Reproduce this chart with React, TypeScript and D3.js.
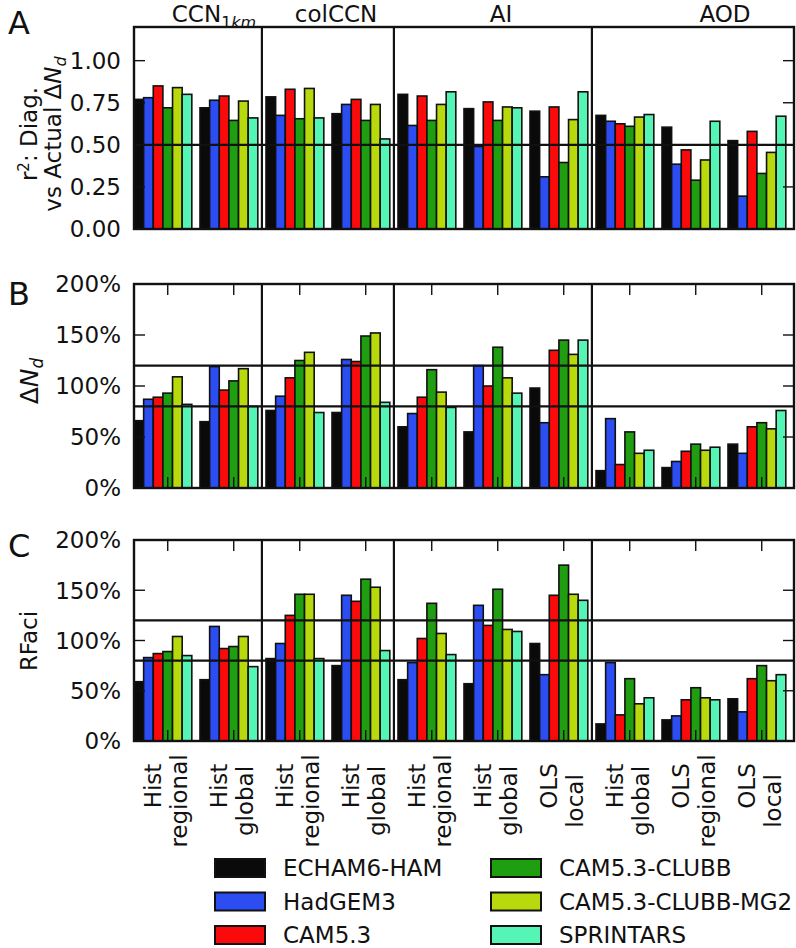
import React from "react";
import * as d3 from "d3";

const models = ["ECHAM6-HAM", "HadGEM3", "CAM5.3", "CAM5.3-CLUBB", "CAM5.3-CLUBB-MG2", "SPRINTARS"];
const modelColors = ["#0a0a0a", "#2b4df2", "#fa0a0a", "#1f9e12", "#b8da0c", "#55f5b5"];

const labelLine1 = ["Hist", "Hist", "Hist", "Hist", "Hist", "Hist", "OLS", "Hist", "OLS", "OLS"];
const labelLine2 = ["regional", "global", "regional", "global", "regional", "global", "local", "global", "regional", "local"];

const columnNames = ["CCN", "colCCN", "AI", "AOD"];
const columnSubs = ["1km", "", "", ""];
const columnStartGroup = [0, 2, 4, 7];

// Panel A: r^2 diagnosed vs actual ΔNd  (rows = groups, cols = models)
const r2Values = [
  [0.77, 0.78, 0.85, 0.72, 0.84, 0.80],
  [0.72, 0.765, 0.79, 0.645, 0.76, 0.66],
  [0.785, 0.675, 0.83, 0.655, 0.835, 0.66],
  [0.685, 0.74, 0.77, 0.645, 0.74, 0.535],
  [0.80, 0.615, 0.79, 0.645, 0.74, 0.815],
  [0.715, 0.49, 0.755, 0.645, 0.725, 0.72],
  [0.70, 0.31, 0.725, 0.395, 0.65, 0.815],
  [0.675, 0.64, 0.625, 0.61, 0.665, 0.68],
  [0.605, 0.385, 0.47, 0.29, 0.41, 0.64],
  [0.525, 0.195, 0.58, 0.33, 0.455, 0.67],
];

// Panel B: ΔNd (%)
const dNdValues = [
  [66, 87, 89, 93, 109, 82],
  [65, 119, 96, 105, 117, 80],
  [76, 90, 108, 125, 133, 74],
  [74, 126, 124, 149, 152, 84],
  [60, 73, 89, 116, 94, 79],
  [55, 120, 100, 138, 108, 93],
  [98, 64, 135, 145, 131, 145],
  [17, 68, 23, 55, 34, 37],
  [20, 26, 36, 43, 37, 40],
  [43, 34, 60, 64, 58, 76],
];

// Panel C: RFaci (%)
const rfaciValues = [
  [59, 83, 87, 89, 104, 85],
  [61, 114, 92, 94, 104, 74],
  [82, 97, 125, 146, 146, 82],
  [75, 145, 139, 161, 153, 90],
  [61, 78, 102, 137, 107, 86],
  [57, 135, 115, 151, 111, 109],
  [97, 66, 145, 175, 146, 140],
  [17, 78, 26, 62, 37, 43],
  [21, 25, 41, 53, 43, 41],
  [42, 29, 62, 75, 60, 66],
];

const r2Ticks = [0, 0.25, 0.5, 0.75, 1.0];
const pctTicks = [0, 50, 100, 150, 200];
const r2Refs = [0.5];
const pctRefs = [80, 120];

const FONT = "DejaVu Sans, Bitstream Vera Sans, sans-serif";
const BW = 0.146;
const FS = 23;

export default function App() {
  const x = d3.scaleLinear().domain([0, 10]).range([134, 794]);
  const groups = d3.range(10);
  const tickX = (i: number) => x(i + 3.5 * BW);

  const panels = [
    { letter: "A", letterY: 34, data: r2Values, domain: [0, 1.2], top: 27, bottom: 229, ticks: r2Ticks, fmt: d3.format(".2f"), refs: r2Refs, xTicks: false },
    { letter: "B", letterY: 305, data: dNdValues, domain: [0, 200], top: 284, bottom: 488, ticks: pctTicks, fmt: (d: number) => `${d}%`, refs: pctRefs, xTicks: true },
    { letter: "C", letterY: 557, data: rfaciValues, domain: [0, 200], top: 540, bottom: 741, ticks: pctTicks, fmt: (d: number) => `${d}%`, refs: pctRefs, xTicks: true },
  ];

  const titleX = [214, 336, 501, 725];

  return (
    <svg width={796} height={948} style={{ position: "absolute", left: 0, top: 0, background: "#fff" }} fontFamily={FONT}>
      {panels.map((p, pi) => {
        const y = d3.scaleLinear().domain(p.domain).range([p.bottom, p.top]);
        const x0 = x.range()[0], x1 = x.range()[1];
        return (
          <g key={pi}>
            <defs>
              <clipPath id={`clip${pi}`}>
                <rect x={x0} y={p.top} width={x1 - x0} height={p.bottom - p.top} />
              </clipPath>
            </defs>
            <g clipPath={`url(#clip${pi})`}>
              {groups.map((g) =>
                models.map((m, mi) => {
                  const v = p.data[g][mi];
                  const bx = x(g + mi * BW);
                  const bw = x(g + (mi + 1) * BW) - bx;
                  return (
                    <rect key={`${g}-${mi}`} x={bx} y={y(v)} width={bw} height={y(0) - y(v)}
                      fill={modelColors[mi]} stroke="#111" strokeWidth={1.6} />
                  );
                })
              )}
              {p.refs.map((r) => (
                <line key={r} x1={x0} x2={x1} y1={y(r)} y2={y(r)} stroke="#111" strokeWidth={2.2} />
              ))}
              {columnStartGroup.slice(1).map((gs) => (
                <line key={gs} x1={x(gs - 0.062)} x2={x(gs - 0.062)} y1={p.top} y2={p.bottom} stroke="#111" strokeWidth={2.2} />
              ))}
              {p.ticks.map((t) => (
                <g key={t}>
                  <line x1={x0} x2={x0 + 11} y1={y(t)} y2={y(t)} stroke="#111" strokeWidth={1.4} />
                  <line x1={x1 - 11} x2={x1} y1={y(t)} y2={y(t)} stroke="#111" strokeWidth={1.4} />
                </g>
              ))}
              {p.xTicks && groups.map((g) => (
                <g key={g}>
                  <line x1={tickX(g)} x2={tickX(g)} y1={p.top} y2={p.top + 11} stroke="#111" strokeWidth={1.4} />
                  <line x1={tickX(g)} x2={tickX(g)} y1={p.bottom - 11} y2={p.bottom} stroke="#111" strokeWidth={1.4} />
                </g>
              ))}
            </g>
            <rect x={x0} y={p.top} width={x1 - x0} height={p.bottom - p.top} fill="none" stroke="#111" strokeWidth={2.4} />
            {p.ticks.map((t) => (
              <text key={t} x={121} y={y(t)} dy="0.36em" textAnchor="end" fontSize={FS} fill="#111">{p.fmt(t)}</text>
            ))}
            <text x={8} y={p.letterY} fontSize={32} fill="#111">{p.letter}</text>
          </g>
        );
      })}

      {/* column titles */}
      {columnNames.map((c, ci) => (
        <text key={c} x={titleX[ci]} y={22} textAnchor="middle" fontSize={FS} fill="#111">
          {c}
          {columnSubs[ci] && (
            <tspan dy={6} fontSize={16}>
              <tspan>1</tspan><tspan fontStyle="italic">km</tspan>
            </tspan>
          )}
        </text>
      ))}

      {/* y-axis labels */}
      <g transform="translate(37,134) rotate(-90)">
        <text x={0} y={0} textAnchor="middle" fontSize={FS} fill="#111">
          r<tspan dy={-8} fontSize={15}>2</tspan><tspan dy={8}>: Diag.</tspan>
        </text>
        <text x={0} y={24} textAnchor="middle" fontSize={FS} fill="#111">
          vs Actual Δ<tspan fontStyle="italic">N</tspan><tspan fontStyle="italic" fontSize={16} dy={5}>d</tspan>
        </text>
      </g>
      <g transform="translate(38,381) rotate(-90)">
        <text x={0} y={0} textAnchor="middle" fontSize={25} fill="#111">
          Δ<tspan fontStyle="italic">N</tspan><tspan fontStyle="italic" fontSize={17} dy={5}>d</tspan>
        </text>
      </g>
      <g transform="translate(37,641) rotate(-90)">
        <text x={0} y={0} textAnchor="middle" fontSize={FS} fill="#111">RFaci</text>
      </g>

      {/* x tick labels */}
      {groups.map((g) => (
        <g key={g}>
          <text transform={`translate(${tickX(g) - 7},786) rotate(-90)`} textAnchor="middle" fontSize={FS} fill="#111">{labelLine1[g]}</text>
          <text transform={`translate(${tickX(g) + 19},801) rotate(-90)`} textAnchor="middle" fontSize={FS} fill="#111">{labelLine2[g]}</text>
        </g>
      ))}

      {/* legend */}
      {models.map((m, mi) => {
        const col = Math.floor(mi / 3);
        const row = mi % 3;
        const px = col === 0 ? 215 : 491;
        const cy = 868 + row * 33.5;
        return (
          <g key={m}>
            <rect x={px} y={cy - 9} width={50} height={18} fill={modelColors[mi]} stroke="#111" strokeWidth={2} />
            <text x={px + 68} y={cy} dy="0.36em" fontSize={FS} fill="#111">{m}</text>
          </g>
        );
      })}
    </svg>
  );
}
